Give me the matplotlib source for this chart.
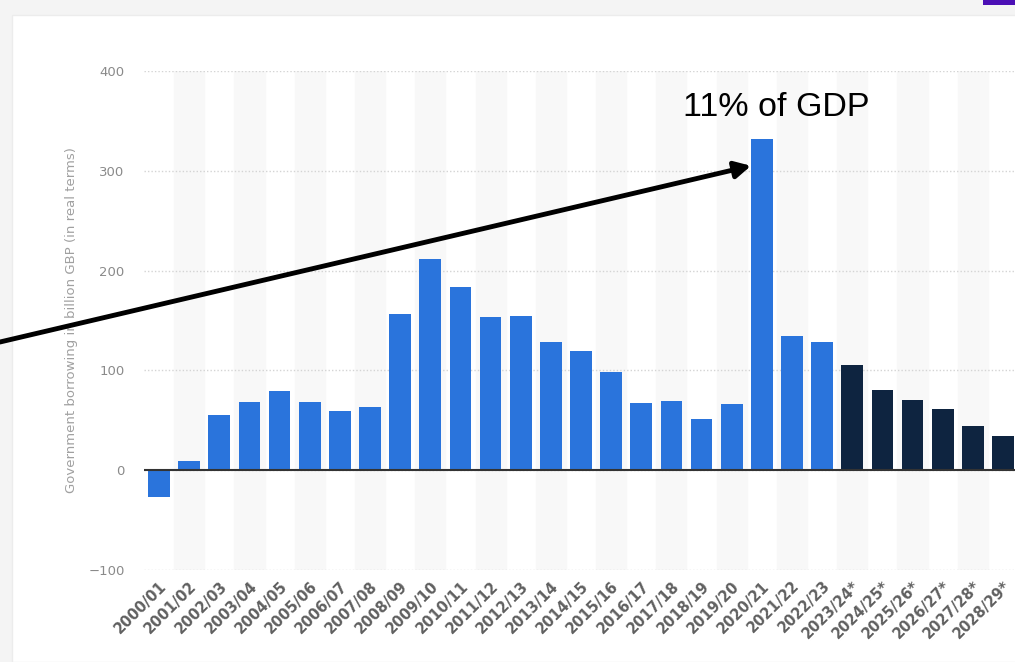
import numpy as np
import matplotlib.pyplot as plt
from matplotlib.patches import Rectangle

# UK public sector net borrowing, billion GBP in real terms
years = ['2000/01', '2001/02', '2002/03', '2003/04', '2004/05', '2005/06',
         '2006/07', '2007/08', '2008/09', '2009/10', '2010/11', '2011/12',
         '2012/13', '2013/14', '2014/15', '2015/16', '2016/17', '2017/18',
         '2018/19', '2019/20', '2020/21', '2021/22', '2022/23', '2023/24*',
         '2024/25*', '2025/26*', '2026/27*', '2027/28*', '2028/29*']
borrowing = [-27, 9, 55, 68, 79, 68, 59, 63, 157, 212, 184, 154, 155, 128,
             119, 98, 67, 69, 51, 66, 332, 134, 128, 105, 80, 70, 61, 44, 34]
n_actual = 23  # the rest are forecasts
peak_label = '11% of GDP'

W, H = 1015, 662
fig = plt.figure(figsize=(W / 100, H / 100), dpi=100)
fig.patch.set_facecolor('#f4f4f4')

# white card with a purple tab in the corner
fig.add_artist(Rectangle((12 / W, 0), 1, 1 - 15 / H, transform=fig.transFigure,
                         facecolor='white', edgecolor='#ececec', lw=1, zorder=-10))
fig.add_artist(Rectangle((983 / W, 1 - 5 / H), 1, 1, transform=fig.transFigure,
                         facecolor='#4b0fb5', edgecolor='none', zorder=-9))

ax = fig.add_axes([144 / W, 1 - 570 / H, 874 / W, 499 / H])
ax.set_facecolor('none')

x = np.arange(len(years))
colors = ['#2a74dc' if i < n_actual else '#0e2440' for i in x]

for i in x[1::2]:
    ax.axvspan(i - 0.5, i + 0.5, color='#f8f8f8', zorder=0)

ax.bar(x, borrowing, width=0.72, color=colors, zorder=3)
ax.axhline(0, color='#333333', lw=1.5, zorder=4)

ax.set_xlim(-0.5, len(years) - 0.5)
ax.set_ylim(-100, 400)
ax.set_yticks([-100, 0, 100, 200, 300, 400])
ax.yaxis.grid(True, ls=(0, (1, 1.5)), color='#d4d4d4', lw=1, zorder=1)
ax.set_axisbelow(True)
for s in ax.spines.values():
    s.set_visible(False)

ax.set_xticks(x)
ax.set_xticklabels(years, rotation=45, ha='right', rotation_mode='anchor',
                   fontsize=10.5, color='#606060', fontweight='semibold')
ax.tick_params(axis='x', length=0, pad=6)
ax.tick_params(axis='y', length=0, pad=14, labelsize=9.5, labelcolor='#8a8a8a')
ax.set_ylabel('Government borrowing in billion GBP (in real terms)',
              fontsize=9.5, color='#a0a0a0', labelpad=7)

# arrow pointing at the pandemic-year peak
peak = int(np.argmax(borrowing))
ax.annotate('', xy=(peak - 0.36, borrowing[peak] - 27), xycoords='data',
            xytext=(0, H - 342), textcoords='figure pixels',
            arrowprops=dict(arrowstyle='-|>,head_length=0.95,head_width=0.5',
                            color='black', lw=3.5, shrinkA=0, shrinkB=0),
            annotation_clip=False, zorder=6)
ax.text(peak + 0.47, 363, peak_label, ha='center', va='center',
        fontsize=24.5, family='Liberation Sans', color='black', zorder=6)

fig.savefig('out.png', dpi=100, facecolor=fig.get_facecolor())
